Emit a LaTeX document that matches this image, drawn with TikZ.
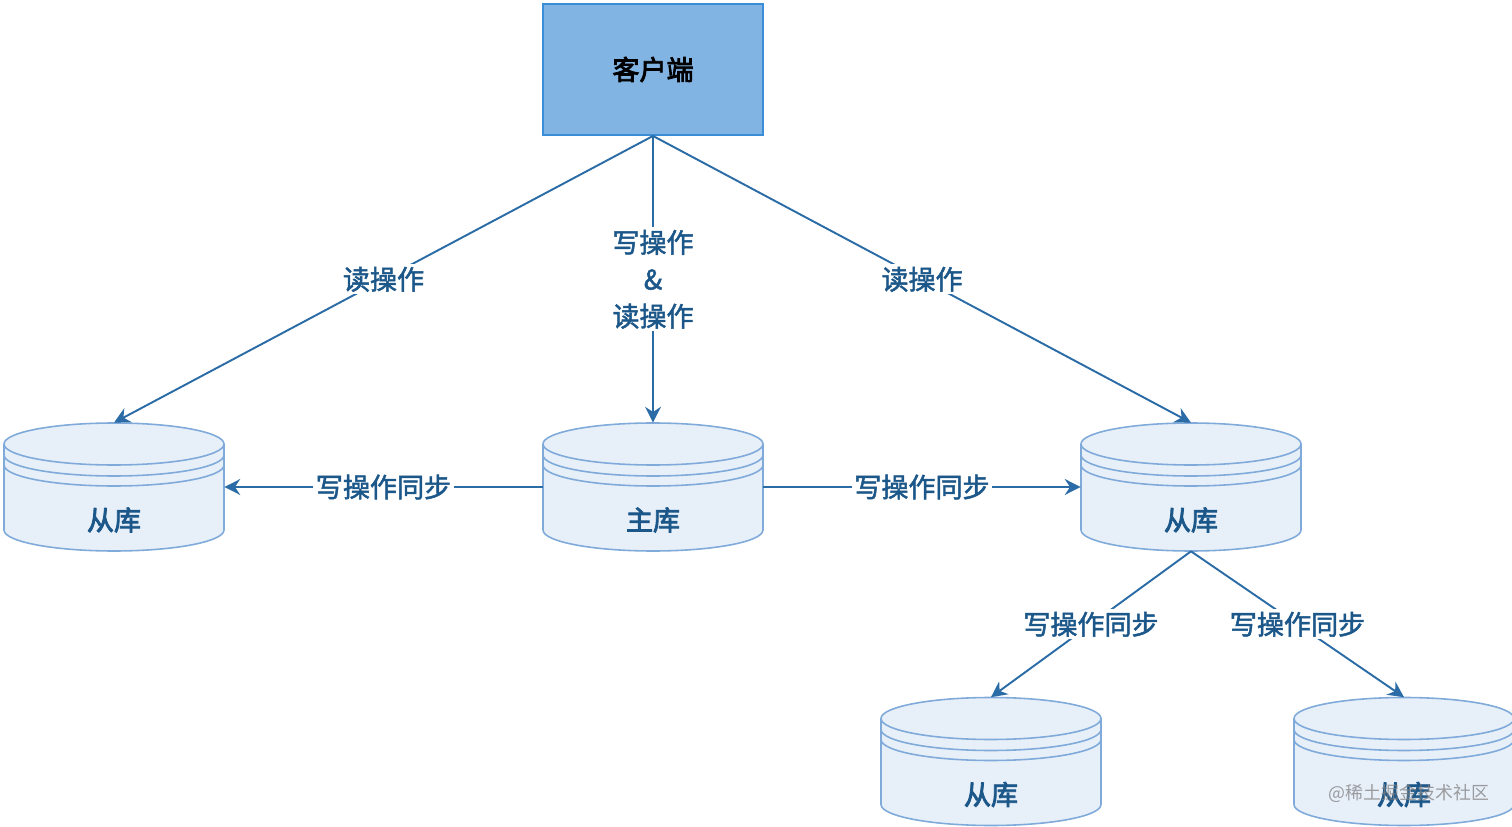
\documentclass[tikz,border=0pt]{standalone}
\usepackage{fontspec}
\setmainfont{Noto Sans CJK SC}
\newfontfamily\nodefont[FakeBold=3]{Noto Sans CJK SC}
\newfontfamily\opfont[FakeBold=1.8]{Noto Sans CJK SC}
\usetikzlibrary{arrows.meta}

\definecolor{linkblue}{HTML}{2B6CA6}
\definecolor{textblue}{HTML}{1C5789}
\definecolor{dbfill}{HTML}{E7EFF9}
\definecolor{dbdraw}{HTML}{7FAADA}
\definecolor{clientfill}{HTML}{82B4E3}
\definecolor{clientdraw}{HTML}{3A8DD6}

\begin{document}
\begin{tikzpicture}[x=0.02cm, y=0.02cm,
    client/.style={rectangle, draw=clientdraw, fill=clientfill, line width=1.1pt,
      minimum width=4.4cm, minimum height=2.62cm,
      font=\nodefont\fontsize{15.4}{21}\selectfont},
    db/.style={rectangle, minimum width=4.4cm, minimum height=2.56cm, inner sep=0pt},
    dbline/.style={draw=dbdraw, line width=0.9pt},
    dbtext/.style={text=textblue, font=\nodefont\fontsize{15.4}{21}\selectfont},
    link/.style={draw=linkblue, line width=1.1pt},
    op/.style={fill=white, text=textblue, inner sep=1.5pt, align=center,
      font=\opfont\fontsize{15.4}{21}\selectfont},
    wmark/.style={text=gray, opacity=0.75, font=\fontsize{10.2}{12}\selectfont},
    >={Stealth[length=9pt,width=9pt]}]
  \useasboundingbox (0,0) rectangle (1512,-827);

  \node[client] (client) at (653,-69.5) {客户端};

  % databases
  \foreach \n/\x/\y/\t in {slaveA/114/-487/从库, master/653/-487/主库,
      slaveB/1191/-487/从库, slaveC/991/-761.5/从库, slaveD/1404/-761.5/从库} {
    \fill[dbfill] (\x-110,\y+43) -- (\x-110,\y-43)
      arc[start angle=180, end angle=360, x radius=110, y radius=21]
      -- (\x+110,\y+43)
      arc[start angle=0, end angle=180, x radius=110, y radius=21] -- cycle;
    \draw[dbline] (\x-110,\y+43) -- (\x-110,\y-43)
      arc[start angle=180, end angle=360, x radius=110, y radius=21]
      -- (\x+110,\y+43)
      arc[start angle=0, end angle=180, x radius=110, y radius=21];
    \foreach \d in {0,11,21}
      \draw[dbline] (\x-110,\y+43-\d)
        arc[start angle=180, end angle=360, x radius=110, y radius=21];
    \node[db] (\n) at (\x,\y) {};
    \node[dbtext] (\n-txt) at (\x,\y-33) {\t};
  }

  \draw[link,->] (client.south) -- node[op] {读操作} (slaveA.north);
  \draw[link,->] (client.south) -- node[op] {写操作\\\&\\读操作} (master.north);
  \draw[link,->] (client.south) -- node[op] {读操作} (slaveB.north);
  \draw[link,->] (master.west) -- node[op] {写操作同步} (slaveA.east);
  \draw[link,->] (master.east) -- node[op] {写操作同步} (slaveB.west);
  \draw[link,->] (slaveB.south) -- node[op] {写操作同步} (slaveC.north);
  \draw[link,->] (slaveB.south) -- node[op] {写操作同步} (slaveD.north);

  \node[wmark] (watermark) at (1409,-793) {@稀土掘金技术社区};
\end{tikzpicture}
\end{document}
